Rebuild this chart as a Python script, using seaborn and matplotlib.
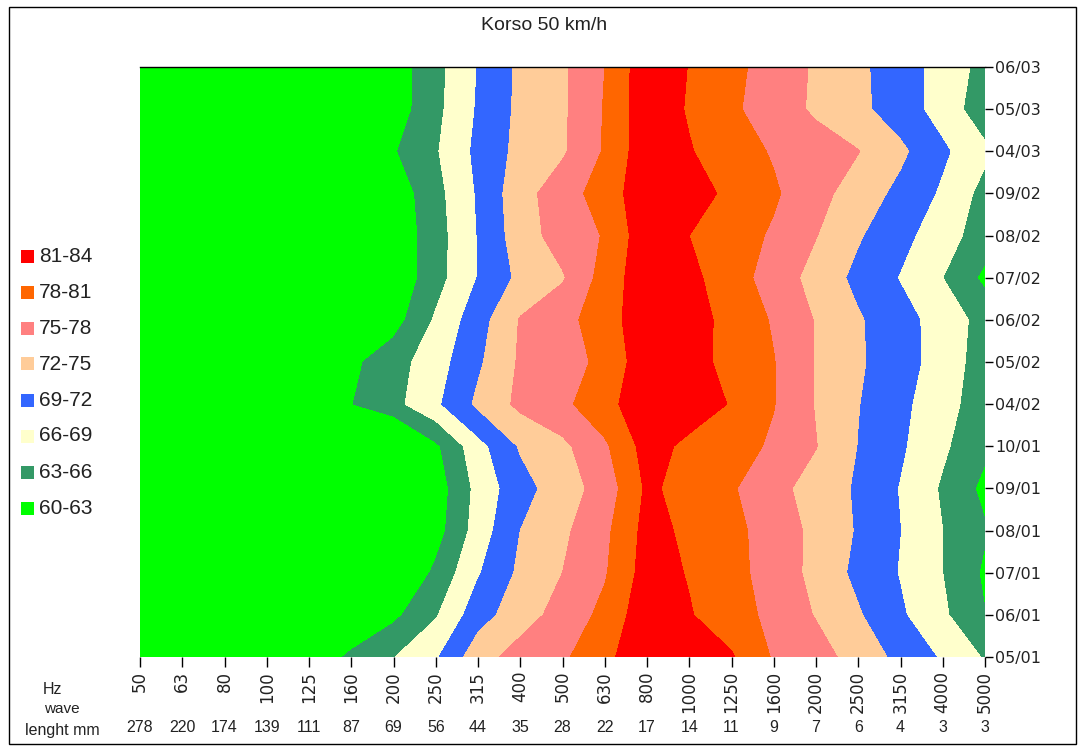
import numpy as np
import matplotlib
matplotlib.use("Agg")
import matplotlib.pyplot as plt
import seaborn as sns
from matplotlib.patches import Rectangle
from matplotlib.transforms import blended_transform_factory

# ---------------- data ----------------
freq_labels = ["50", "63", "80", "100", "125", "160", "200", "250", "315", "400", "500",
               "630", "800", "1000", "1250", "1600", "2000", "2500", "3150", "4000", "5000"]
wave_labels = ["278", "220", "174", "139", "111", "87", "69", "56", "44", "35", "28",
               "22", "17", "14", "11", "9", "7", "6", "4", "3", "3"]
date_labels = ["05/01", "06/01", "07/01", "08/01", "09/01", "10/01", "04/02", "05/02",
               "06/02", "07/02", "08/02", "09/02", "04/03", "05/03", "06/03"]

band_levels = [60, 63, 66, 69, 72, 75, 78, 81, 84]
band_labels = ["60-63", "63-66", "66-69", "69-72", "72-75", "75-78", "78-81", "81-84"]
band_colors = ["#00FF00", "#339966", "#FFFFCC", "#3366FF", "#FFCC99", "#FF8080", "#FF6600", "#FF0000"]

# sound level (dB) per date, one value per frequency band
spl_0501 = [57.0, 58.0, 59.0, 60.0, 61.0, 63.5, 65.9, 68.6, 73.8, 76.2, 77.5, 80.2, 83.3, 82.5, 81.3, 77.7, 76.3, 73.7, 71.2, 68.6, 65.7]
spl_0601 = [57.0, 58.0, 59.0, 59.5, 60.0, 60.5, 62.3, 65.7, 70.7, 73.7, 76.1, 78.8, 83.0, 81.2, 79.3, 77.2, 74.8, 72.3, 69.4, 66.5, 63.1]
spl_0701 = [56.0, 57.0, 57.5, 58.0, 58.5, 59.0, 59.4, 63.6, 68.7, 72.6, 75.0, 77.7, 82.3, 80.8, 78.9, 76.8, 74.1, 71.2, 68.8, 66.0, 62.5]
spl_0801 = [55.0, 55.5, 56.0, 56.5, 57.0, 57.0, 57.5, 61.7, 67.3, 72.0, 74.4, 77.3, 82.0, 80.4, 78.8, 76.7, 74.2, 71.7, 69.0, 66.0, 63.3]
spl_0901 = [55.0, 55.5, 56.0, 56.5, 56.5, 57.0, 57.0, 61.3, 66.9, 70.9, 73.5, 76.3, 81.5, 80.0, 78.3, 76.0, 73.7, 71.6, 68.8, 65.6, 62.2]
spl_1001 = [55.0, 55.5, 56.0, 56.5, 57.0, 57.0, 57.7, 62.4, 67.9, 72.3, 74.3, 77.5, 82.2, 80.3, 79.1, 77.6, 75.1, 71.9, 69.4, 66.5, 63.6]
spl_0402 = [57.0, 58.0, 59.0, 60.0, 61.5, 62.9, 65.1, 68.4, 72.6, 75.7, 77.3, 80.0, 83.0, 82.6, 80.8, 78.1, 74.8, 72.1, 69.7, 67.1, 64.4]
spl_0502 = [57.0, 58.0, 59.0, 60.0, 61.0, 62.3, 64.8, 67.6, 71.5, 75.4, 76.8, 78.7, 83.0, 82.1, 80.1, 78.1, 74.8, 72.4, 70.2, 67.7, 64.5]
spl_0602 = [56.0, 57.0, 58.0, 59.0, 59.5, 60.5, 61.7, 66.4, 70.7, 75.2, 77.0, 79.6, 83.0, 82.3, 80.0, 77.7, 74.8, 72.3, 70.1, 67.7, 64.9]
spl_0702 = [56.0, 56.5, 57.0, 58.0, 58.5, 59.0, 60.6, 64.8, 69.1, 72.7, 74.7, 79.2, 83.0, 81.8, 79.3, 76.7, 73.9, 71.2, 68.8, 66.0, 62.3]
spl_0802 = [56.0, 56.5, 57.0, 58.0, 58.5, 59.0, 60.7, 64.7, 69.1, 73.6, 76.3, 78.2, 83.0, 81.0, 79.4, 77.6, 75.1, 72.3, 69.9, 67.3, 64.5]
spl_0902 = [56.0, 56.5, 57.0, 58.0, 58.5, 59.0, 61.0, 65.0, 69.3, 73.9, 76.6, 79.4, 83.0, 82.3, 80.3, 78.4, 76.0, 73.6, 71.2, 68.5, 65.0]
spl_0403 = [57.0, 58.0, 58.5, 59.5, 60.0, 61.0, 62.7, 65.7, 69.7, 72.9, 74.6, 78.3, 83.0, 81.2, 79.4, 77.7, 76.4, 75.1, 72.6, 69.5, 66.6]
spl_0503 = [56.5, 57.0, 58.0, 58.5, 59.5, 60.0, 61.3, 65.2, 69.3, 72.7, 74.5, 78.2, 83.0, 80.7, 78.5, 76.5, 74.5, 72.7, 70.5, 67.7, 64.2]
spl_0603 = [56.5, 57.0, 58.0, 58.5, 59.5, 60.0, 61.3, 65.0, 69.1, 72.6, 74.5, 78.0, 83.0, 80.9, 78.8, 76.7, 74.6, 72.6, 70.4, 67.8, 65.0]

# ---------------- figure ----------------
sns.set_theme(style="white")
plt.rcParams["font.family"] = ["Liberation Sans", "DejaVu Sans"]

W, H = 1083, 746
fig = plt.figure(figsize=(W / 100, H / 100), dpi=100)
fig.patch.set_facecolor("white")

left_px, right_px, top_px, bottom_px = 140, 985, 67, 657
ax = fig.add_axes([left_px / W, 1 - bottom_px / H, (right_px - left_px) / W, (bottom_px - top_px) / H])

Z = np.array([spl_0501, spl_0601, spl_0701, spl_0801, spl_0901, spl_1001, spl_0402, spl_0502,
              spl_0602, spl_0702, spl_0802, spl_0902, spl_0403, spl_0503, spl_0603])
xs = np.arange(len(freq_labels))
ys = np.arange(len(date_labels))

ax.contourf(xs, ys, Z, levels=band_levels,
            colors=[band_colors[0]] + band_colors + [band_colors[-1]], extend="both")

ax.set_xlim(xs[0], xs[-1])
ax.set_ylim(ys[0], ys[-1])

ax.set_xticks(xs)
ax.set_xticklabels(freq_labels, rotation=90, fontsize=12, family="DejaVu Sans", color="#222222")
ax.yaxis.tick_right()
ax.set_yticks(ys)
ax.set_yticklabels(date_labels, fontsize=11.5, family="DejaVu Sans", color="#222222")
ax.tick_params(axis="x", which="major", direction="out", length=7, width=1, color="black",
               pad=3, bottom=True, top=False)
ax.tick_params(axis="y", which="major", direction="out", length=6, width=1, color="black",
               pad=1.5, right=True, left=False, labelright=True, labelleft=False)

for side in ["left", "bottom", "right"]:
    ax.spines[side].set_visible(False)
ax.spines["top"].set_visible(True)
ax.spines["top"].set_color("black")
ax.spines["top"].set_linewidth(1)
ax.grid(False)

# wavelength row under frequency ticks
trans = blended_transform_factory(ax.transData, fig.transFigure)
for xi, wl in zip(xs, wave_labels):
    ax.text(xi, 1 - 728 / H, wl, transform=trans, ha="center", va="center",
            fontsize=11.5, color="#222222", clip_on=False)

fig.text(52 / W, 1 - 689 / H, "Hz", ha="center", va="center", fontsize=11.5, color="#222222")
fig.text(62 / W, 1 - 709 / H, "wave", ha="center", va="center", fontsize=11, color="#222222")
fig.text(62 / W, 1 - 730 / H, "lenght mm", ha="center", va="center", fontsize=11.5, color="#222222")

# title
fig.text(544 / W, 1 - 26 / H, "Korso 50 km/h", ha="center", va="center", fontsize=14, color="#222222")

# legend (highest band on top)
for k, (lab, col) in enumerate(zip(band_labels[::-1], band_colors[::-1])):
    yc = 256 + 36 * k
    fig.patches.append(Rectangle((21 / W, 1 - (yc + 6.5) / H), 13 / W, 13 / H,
                                 transform=fig.transFigure, facecolor=col, edgecolor="none"))
    fig.text(39 / W, 1 - yc / H, lab, ha="left", va="center", fontsize=15, color="#222222")

# outer frame
fig.patches.append(Rectangle((9 / W, 1 - 744 / H), (1076 - 9) / W, (744 - 7) / H,
                             transform=fig.transFigure, facecolor="none", edgecolor="black", linewidth=1))

fig.savefig("out.png", dpi=100)
